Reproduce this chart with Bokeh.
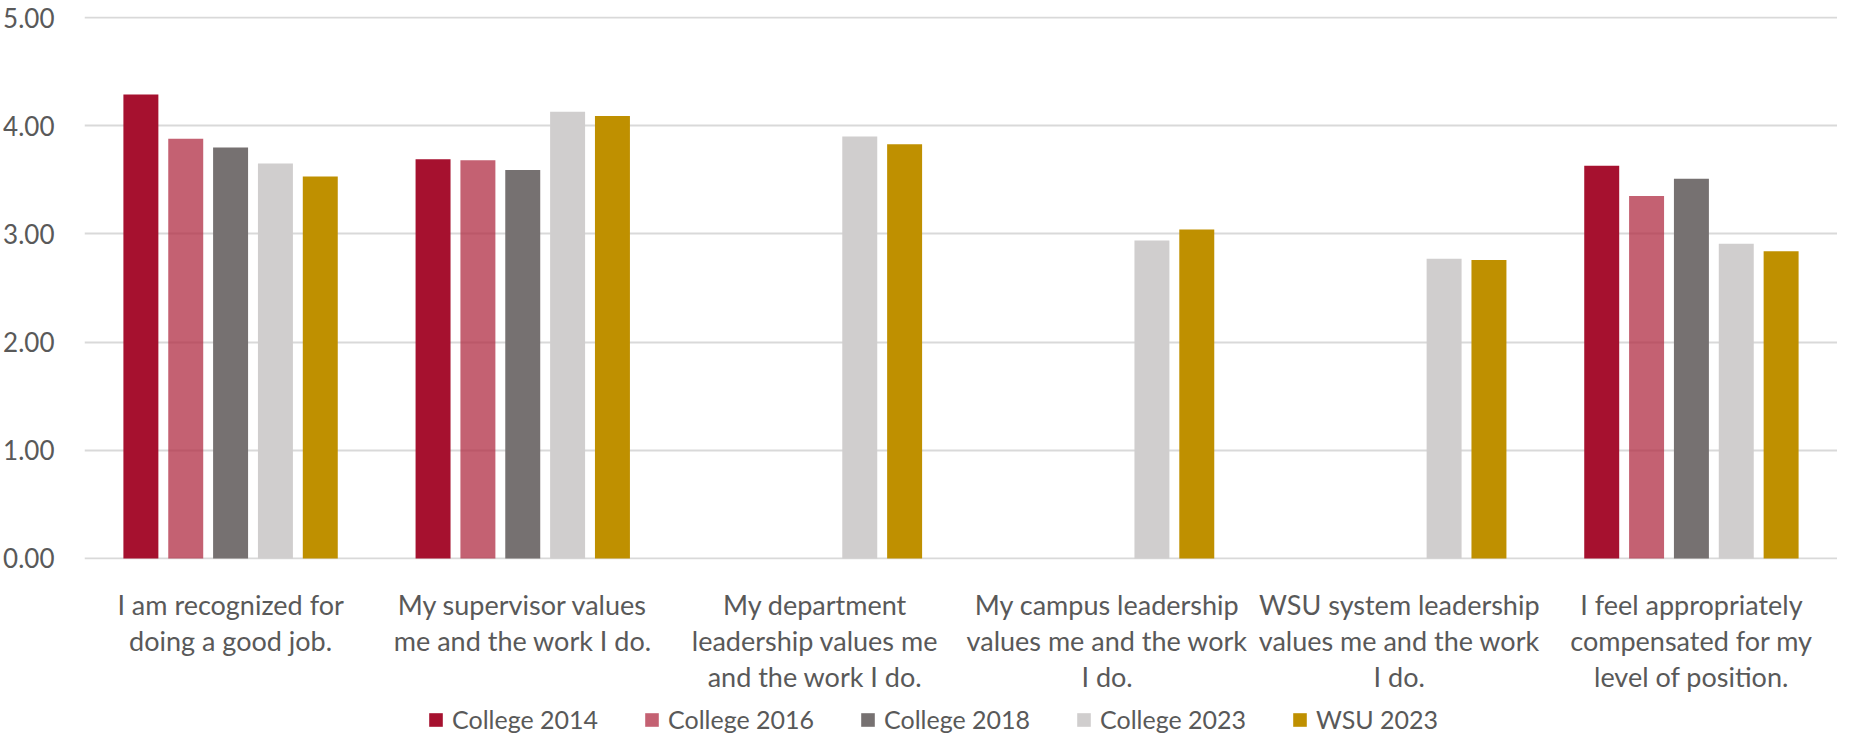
from bokeh.plotting import figure
from bokeh.layouts import column
from bokeh.models import (ColumnDataSource, FactorRange, Range1d, FixedTicker,
                          Legend, LegendItem, NumeralTickFormatter)
from bokeh.core.properties import value
from bokeh.transform import dodge
from bokeh.embed import file_html
from bokeh.resources import INLINE

categories = [
    "I am recognized for\ndoing a good job.",
    "My supervisor values\nme and the work I do.",
    "My department\nleadership values me\nand the work I do.",
    "My campus leadership\nvalues me and the work\nI do.",
    "WSU system leadership\nvalues me and the work\nI do.",
    "I feel appropriately\ncompensated for my\nlevel of position.",
]
series_names = ["College 2014", "College 2016", "College 2018", "College 2023", "WSU 2023"]
college_2014 = [4.29, 3.69, None, None, None, 3.63]
college_2016 = [3.88, 3.68, None, None, None, 3.35]
college_2018 = [3.80, 3.59, None, None, None, 3.51]
college_2023 = [3.65, 4.13, 3.90, 2.94, 2.77, 2.91]
wsu_2023 = [3.53, 4.09, 3.83, 3.04, 2.76, 2.84]
y_ticks = [0, 1, 2, 3, 4, 5]

series_values = [college_2014, college_2016, college_2018, college_2023, wsu_2023]
colors = ["#A6112F", "#B02C43", "#767171", "#D0CECE", "#BF9000"]
alphas = [1.0, 0.75, 1.0, 1.0, 1.0]
offsets = [-0.307, -0.1535, 0.0, 0.1535, 0.307]
FONT = "Lato"
TEXT_COLOR = "#595959"
W = 1837
MAIN_H = 575
STRIP_H = 159
LINE1_Y = 130.3      # baseline of first label line, px above strip bottom
LINE_STEP = 36       # px between label lines

x_range = FactorRange(factors=categories, range_padding=0)

p = figure(width=W, height=MAIN_H, x_range=x_range,
           y_range=Range1d(-0.01, 5.01),
           output_backend="svg", toolbar_location=None,
           x_axis_location=None,
           min_border_left=84, min_border_right=0,
           min_border_top=16, min_border_bottom=16)
p.outline_line_color = None
p.background_fill_color = "white"
p.border_fill_color = "white"

for name, vals, col, a, off in zip(series_names, series_values, colors, alphas, offsets):
    xs = [c for c, v in zip(categories, vals) if v is not None]
    ys = [v for v in vals if v is not None]
    src = ColumnDataSource(dict(x=xs, top=ys))
    p.vbar(x=dodge("x", off, range=x_range), top="top", bottom=0,
           width=0.1197, source=src, fill_color=col, fill_alpha=a, line_color=None)

p.yaxis.ticker = FixedTicker(ticks=y_ticks)
p.yaxis.formatter = NumeralTickFormatter(format="0.00")
p.yaxis.axis_line_color = None
p.yaxis.major_tick_line_color = None
p.yaxis.minor_tick_line_color = None
p.yaxis.major_label_standoff = 24
p.yaxis.major_label_text_font = FONT
p.yaxis.major_label_text_font_size = "26px"
p.yaxis.major_label_text_color = TEXT_COLOR

p.xgrid.grid_line_color = None
p.ygrid.grid_line_color = "#D9D9D9"
p.ygrid.grid_line_width = 2

# strip below: category labels + legend
s = figure(width=W, height=STRIP_H, x_range=x_range, y_range=Range1d(0, STRIP_H),
           output_backend="svg", toolbar_location=None,
           x_axis_location=None, y_axis_location=None,
           min_border_left=84, min_border_right=0,
           min_border_top=0, min_border_bottom=0)
s.outline_line_color = None
s.grid.visible = False
s.background_fill_color = "white"
s.border_fill_color = "white"

lab_x, lab_y, lab_t = [], [], []
for c in categories:
    for i, line in enumerate(c.split("\n")):
        lab_x.append(c)
        lab_y.append(LINE1_Y - i * LINE_STEP)
        lab_t.append(line)
s.text(x=lab_x, y=lab_y, text=lab_t, text_align="center", text_baseline="alphabetic",
       text_font=value(FONT), text_font_size="27px", text_color=TEXT_COLOR)

items = []
for name, col, a in zip(series_names, colors, alphas):
    r = s.vbar(x=[categories[0]], top=[-20], bottom=[-40], width=0.1,
               fill_color=col, fill_alpha=a, line_color=None)
    items.append(LegendItem(label=name, renderers=[r]))
legend = Legend(items=items, orientation="horizontal",
                location=(343, 0),
                glyph_width=17, glyph_height=17, label_standoff=8,
                label_width=150, spacing=41, padding=0, margin=0,
                border_line_color=None, background_fill_alpha=0,
                label_text_font=FONT, label_text_font_size="25px",
                label_text_color=TEXT_COLOR)
s.add_layout(legend, "center")

layout = column(p, s, spacing=0)
open("out.html", "w").write(file_html(layout, INLINE))
